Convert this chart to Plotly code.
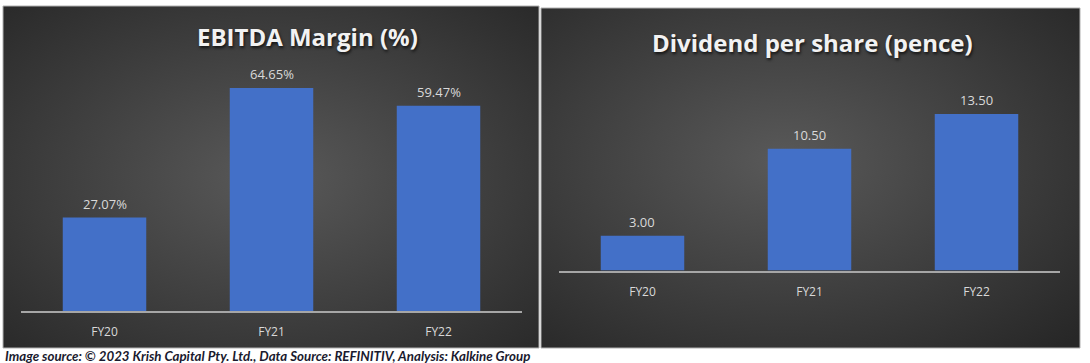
import base64
import plotly.graph_objects as go

categories = ["FY20", "FY21", "FY22"]
ebitda_margin = [27.07, 64.65, 59.47]
dividend_pence = [3.00, 10.50, 13.50]

title_left = "EBITDA Margin (%)"
title_right = "Dividend per share (pence)"
footer = "Image source: © 2023 Krish Capital Pty. Ltd., Data Source: REFINITIV, Analysis: Kalkine Group"

W, H = 1090, 363
BAR = "#4370c8"
TXT = "#d9d9d9"


def px(x):
    return x / W


def py(y):
    return 1 - y / H


def radial_bg(cx, cy):
    svg = (
        '<svg xmlns="http://www.w3.org/2000/svg" width="500" height="320" viewBox="0 0 500 320" preserveAspectRatio="none">'
        '<defs><radialGradient id="g" cx="%s" cy="%s" r="0.75">'
        '<stop offset="0" stop-color="#595959"/>'
        '<stop offset="1" stop-color="#272727"/>'
        '</radialGradient></defs>'
        '<rect width="500" height="320" fill="url(#g)"/></svg>' % (cx, cy)
    )
    return "data:image/svg+xml;base64," + base64.b64encode(svg.encode()).decode()


fig = go.Figure()

fig.add_trace(go.Bar(
    x=categories, y=ebitda_margin, width=0.5,
    marker=dict(color=BAR, line=dict(width=0)),
    xaxis="x", yaxis="y", showlegend=False,
))
fig.add_trace(go.Bar(
    x=categories, y=dividend_pence, width=0.5,
    marker=dict(color=BAR, line=dict(width=0)),
    xaxis="x2", yaxis="y2", showlegend=False,
))

label_font = dict(family="Open Sans", size=13, color=TXT)
annotations = []
for c, v in zip(categories, ebitda_margin):
    annotations.append(dict(text=f"{v:.2f}%", x=c, y=v, xref="x", yref="y",
                            yanchor="middle", yshift=14, showarrow=False, font=label_font))
for c, v in zip(categories, dividend_pence):
    annotations.append(dict(text=f"{v:.2f}", x=c, y=v, xref="x2", yref="y2",
                            yanchor="middle", yshift=14, showarrow=False, font=label_font))

xcommon = dict(
    showline=True, linecolor="#a6a6a6", linewidth=2, showgrid=False,
    zeroline=False, ticks="outside", ticklen=9, tickcolor="rgba(0,0,0,0)",
    tickfont=dict(family="Open Sans", size=12, color=TXT), fixedrange=True,
)
ycommon = dict(visible=False, showgrid=False, zeroline=False, fixedrange=True)

annotations += [
    dict(text=title_left, xref="paper", yref="paper", x=px(307), y=py(36),
         xanchor="center", yanchor="middle", showarrow=False,
         font=dict(family="Open Sans", size=24, color="#f2f2f2", weight="bold",
                   shadow="1px 2px 3px rgba(0,0,0,0.7)")),
    dict(text=title_right, xref="paper", yref="paper", x=px(812), y=py(42),
         xanchor="center", yanchor="middle", showarrow=False,
         font=dict(family="Open Sans", size=24, color="#f2f2f2", weight="bold",
                   shadow="1px 2px 3px rgba(0,0,0,0.7)")),
    dict(text=footer, xref="paper", yref="paper", x=px(3), y=py(355.5),
         xanchor="left", yanchor="middle", showarrow=False,
         font=dict(family="Lato", size=13.3, color="#1a1a2e", weight="bold", style="italic")),
]

fig.update_layout(
    width=W, height=H,
    margin=dict(l=0, r=0, t=0, b=0),
    paper_bgcolor="white", plot_bgcolor="rgba(0,0,0,0)",
    bargap=0.5,
    xaxis=dict(domain=[px(21), px(522)], anchor="y", **xcommon),
    yaxis=dict(domain=[py(311), py(69.5)], range=[0, 70], anchor="x", **ycommon),
    xaxis2=dict(domain=[px(559), px(1060)], anchor="y2", **xcommon),
    yaxis2=dict(domain=[py(270.5), py(85)], range=[0, 16], anchor="x2", **ycommon),
    images=[
        dict(source=radial_bg("0.5", "0.5"), xref="paper", yref="paper",
             x=px(3), y=py(6), sizex=px(539) - px(3), sizey=(348 - 6) / H,
             sizing="stretch", layer="below", xanchor="left", yanchor="top"),
        dict(source=radial_bg("0.45", "0.45"), xref="paper", yref="paper",
             x=px(541), y=py(8), sizex=px(1080) - px(541), sizey=(348 - 8) / H,
             sizing="stretch", layer="below", xanchor="left", yanchor="top"),
    ],
    shapes=[
        dict(type="rect", xref="paper", yref="paper", x0=px(3), x1=px(539),
             y0=py(348), y1=py(6), line=dict(color="#b0b0b0", width=1), layer="below"),
        dict(type="rect", xref="paper", yref="paper", x0=px(541), x1=px(1080),
             y0=py(348), y1=py(8), line=dict(color="#b0b0b0", width=1), layer="below"),
    ],
    annotations=annotations,
)

fig.write_html("out.html", config={"displayModeBar": False},
               post_script="document.body.style.margin='0px';document.body.style.overflow='hidden';")
